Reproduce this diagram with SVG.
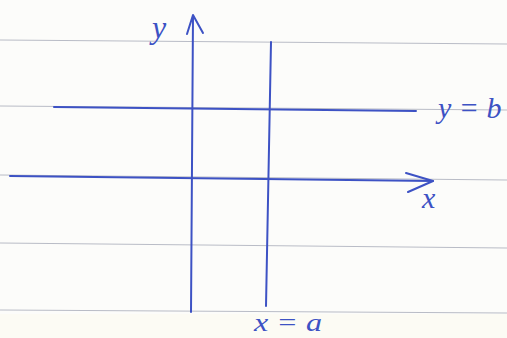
<svg xmlns="http://www.w3.org/2000/svg" width="507" height="338" viewBox="0 0 507 338">
<style>
.rule{stroke:#b9bcc6;stroke-width:1.2;fill:none}
.ink{stroke:#3d52c4;stroke-width:2;fill:none;stroke-linecap:round;stroke-linejoin:round}
.lbl{fill:#3d52c4;font-family:"Liberation Serif",serif;font-style:italic}
</style>
<rect width="507" height="338" fill="#fcfcfa"/>
<rect y="314" width="507" height="24" fill="#fcfbf4"/>
<g id="paper">
<line class="rule" x1="0" y1="40" x2="507" y2="44"/>
<line class="rule" x1="0" y1="106" x2="507" y2="110"/>
<line class="rule" x1="0" y1="175" x2="507" y2="180"/>
<line class="rule" x1="0" y1="243" x2="507" y2="248"/>
<line class="rule" x1="0" y1="310" x2="507" y2="313"/>
</g>
<g id="connectors">
<g id="y-axis">
<path class="ink" d="M191 312 L193 16"/>
<path class="ink" d="M187 34 L193 15 L203 33"/>
</g>
<g id="x-axis">
<path class="ink" d="M10 176 L433 181"/>
<path class="ink" d="M406 173 L433 181 L408 192"/>
</g>
<path id="line-x-a" class="ink" d="M271 42 L266 306"/>
<path id="line-y-b" class="ink" d="M54 107 L416 111"/>
</g>
<g id="labels">
<text class="lbl" x="152" y="38" font-size="32">y</text>
<text class="lbl" x="422" y="208" font-size="30">x</text>
<text class="lbl" x="438" y="118" font-size="30">y = b</text>
<text class="lbl" x="254" y="331" font-size="26" textLength="68" lengthAdjust="spacingAndGlyphs">x = a</text>
</g>
</svg>
